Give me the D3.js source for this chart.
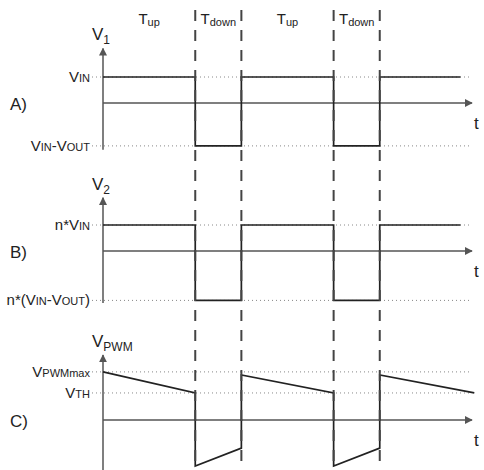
<!DOCTYPE html>
<meta charset="utf-8">
<style>
body { margin: 0; background: #fff; }
text { font-family: "Liberation Sans", Arial, sans-serif; fill: #222; }
.axis { stroke: #555; stroke-width: 1.5; fill: none; }
.ref { stroke: #888; stroke-width: 1; stroke-dasharray: 1,3; fill: none; }
.sig { stroke: #222; stroke-width: 1.7; fill: none; }
.edge { stroke: #444; stroke-width: 2; stroke-dasharray: 11,9; }
</style>
<body>
<script src="https://d3js.org/d3.v7.min.js"></script>
<script>
// time in units: Tup = 2, Tdown = 1
var edges = [2, 3, 5, 6];
var phaseLabels = [
  {t: 1, main: "T", sub: "up"},
  {t: 2.5, main: "T", sub: "down"},
  {t: 4, main: "T", sub: "up"},
  {t: 5.5, main: "T", sub: "down"}
];

// panel A: rectangular V1
var v1 = [[0, 1], [2, 1], [2, -1.65], [3, -1.65], [3, 1], [5, 1], [5, -1.65], [6, -1.65], [6, 1], [7.75, 1]];
// panel B: rectangular V2
var v2 = [[0, 1], [2, 1], [2, -1.9], [3, -1.9], [3, 1], [5, 1], [5, -1.9], [6, -1.9], [6, 1], [7.75, 1]];
// panel C: sawtooth VPWM
var vpwm = [[0, 1.85], [2, 1.04], [2, -1.77], [3, -1.08], [3, 1.73], [5, 1.04], [5, -1.77], [6, -1.08], [6, 1.73], [8.05, 1.04]];

var panels = [
  {name: "A)", zero: 103, top: 2.1, bottom: -1.8, data: v1, yname: "V", ysub: "1",
   ticks: [{v: 1, parts: [["V", ""], ["IN", "s"]]},
           {v: -1.65, parts: [["V", ""], ["IN", "s"], ["-V", ""], ["OUT", "s"]]}]},
  {name: "B)", zero: 251, top: 2.05, bottom: -2.0, data: v2, yname: "V", ysub: "2",
   ticks: [{v: 1, parts: [["n*V", ""], ["IN", "s"]]},
           {v: -1.9, parts: [["n*(V", ""], ["IN", "s"], ["-V", ""], ["OUT", "s"], [")", ""]]}]},
  {name: "C)", zero: 420, top: 2.5, bottom: -1.95, data: vpwm, yname: "V", ysub: "PWM",
   ticks: [{v: 1.85, parts: [["V", ""], ["PWMmax", "s"]]},
           {v: 1.04, parts: [["V", ""], ["TH", "s"]]}]}
];

var W = 484, H = 470, unit = 26;
var x = d3.scaleLinear().domain([0, 8]).range([103, 472]);

var svg = d3.select("body").append("svg")
    .attr("width", W)
    .attr("height", H);

svg.append("defs").append("marker")
    .attr("id", "arr")
    .attr("viewBox", "0 0 10 10")
    .attr("refX", 9).attr("refY", 5)
    .attr("markerWidth", 8).attr("markerHeight", 8)
    .attr("markerUnits", "userSpaceOnUse")
    .attr("orient", "auto")
  .append("path")
    .attr("d", "M0,0L10,5L0,10z")
    .attr("fill", "#555");

var line = d3.line();

panels.forEach(function(p) {
  var y = d3.scaleLinear().domain([0, 1]).range([p.zero, p.zero - unit]);
  var g = svg.append("g");

  // dotted reference levels
  p.ticks.forEach(function(tk) {
    g.append("line").attr("class", "ref")
      .attr("x1", 92).attr("x2", x(8))
      .attr("y1", y(tk.v)).attr("y2", y(tk.v));
    var t = g.append("text")
      .attr("x", 90).attr("y", y(tk.v) + 5)
      .attr("text-anchor", "end")
      .style("font-size", "15px");
    tk.parts.forEach(function(pt) {
      t.append("tspan").text(pt[0])
        .style("font-size", pt[1] ? "11px" : "15px");
    });
  });

  // axes
  g.append("line").attr("class", "axis")
    .attr("x1", x(0)).attr("x2", x(0))
    .attr("y1", y(p.bottom)).attr("y2", y(p.top))
    .attr("marker-end", "url(#arr)");
  g.append("line").attr("class", "axis")
    .attr("x1", x(0)).attr("x2", x(8))
    .attr("y1", y(0)).attr("y2", y(0))
    .attr("marker-end", "url(#arr)");

  // signal
  g.append("path").attr("class", "sig")
    .attr("d", line(p.data.map(function(d) { return [x(d[0]), y(d[1])]; })));

  // labels
  g.append("text").attr("x", 10).attr("y", y(0) + 7)
    .style("font-size", "17px").text(p.name);
  g.append("text").attr("x", x(8) + 2).attr("y", y(0) + 26)
    .style("font-size", "17px").text("t");
  var yl = g.append("text").attr("x", x(0) - 11).attr("y", y(p.top) - 8)
    .style("font-size", "17px");
  yl.append("tspan").text(p.yname);
  yl.append("tspan").text(p.ysub).attr("dy", 4).style("font-size", "12px");
});

// dashed switching edges
svg.selectAll(".edge")
  .data(edges)
  .enter().append("line")
    .attr("class", "edge")
    .attr("x1", function(d) { return x(d); })
    .attr("x2", function(d) { return x(d); })
    .attr("y1", 10).attr("y2", H);

// phase labels at top
svg.selectAll(".phase")
  .data(phaseLabels)
  .enter().append("text")
    .attr("class", "phase")
    .attr("x", function(d) { return x(d.t); })
    .attr("y", 24)
    .attr("text-anchor", "middle")
    .style("font-size", "15px")
    .each(function(d) {
      var t = d3.select(this);
      t.append("tspan").text(d.main);
      t.append("tspan").text(d.sub).attr("dy", 2).style("font-size", "11px");
    });
</script>
</body>
